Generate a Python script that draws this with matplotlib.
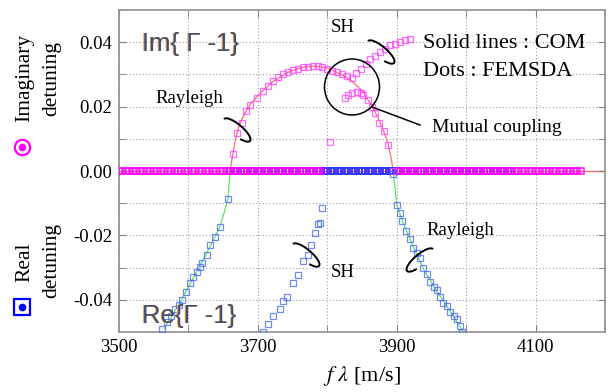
import numpy as np
import matplotlib
matplotlib.use("Agg")
import matplotlib.pyplot as plt
from matplotlib.patches import Arc, Ellipse
from matplotlib.lines import Line2D
from matplotlib.transforms import IdentityTransform, offset_copy
from matplotlib.ticker import FuncFormatter

plt.rcParams["font.family"] = ["Liberation Serif", "DejaVu Serif"]
plt.rcParams["mathtext.fontset"] = "stix"

# FEMSDA dots, imaginary part (Rayleigh branch)
im_ray_x = [3664, 3670, 3677, 3683, 3689, 3699, 3707, 3714, 3722, 3729, 3736, 3744, 3751, 3758,
            3765, 3772, 3779, 3786, 3793, 3800, 3807, 3814, 3821, 3828, 3835]
im_ray_y = [0.0054, 0.0117, 0.015, 0.0186, 0.0205, 0.0227, 0.025, 0.0265, 0.0278, 0.0292, 0.030,
            0.0308, 0.0315, 0.0318, 0.0322, 0.0324, 0.0325, 0.0325, 0.0323, 0.0318, 0.0312, 0.0306,
            0.030, 0.0294, 0.029]
# imaginary part, SH branch
im_sh_x = [3842, 3849, 3856, 3862, 3869, 3876, 3883, 3890, 3897, 3905, 3912, 3919]
im_sh_y = [0.0305, 0.0318, 0.0333, 0.0347, 0.0358, 0.037, 0.038, 0.039, 0.0395, 0.040, 0.0407, 0.041]
# imaginary part, coupled branch
im_cp_x = [3826, 3830, 3836, 3843, 3848, 3852, 3859, 3864, 3869, 3875, 3882, 3888, 3895, 3804]
im_cp_y = [0.0227, 0.0235, 0.0243, 0.0246, 0.0243, 0.0237, 0.022, 0.020, 0.018, 0.015, 0.0125,
           0.0082, 0.0, 0.009]

# real part dots
re_left_x = [3562, 3569, 3575, 3581, 3586, 3591, 3597, 3602, 3607, 3612, 3617, 3620, 3627, 3631,
             3638, 3645, 3657]
re_left_y = [-0.049, -0.047, -0.045, -0.043, -0.0415, -0.040, -0.0375, -0.0348, -0.033, -0.0314,
             -0.0298, -0.0287, -0.026, -0.023, -0.0206, -0.0175, -0.0086]
re_sh_x = [3707, 3714, 3722, 3732, 3736, 3742, 3751, 3758, 3765, 3772, 3777, 3782, 3787, 3790, 3793]
re_sh_y = [-0.050, -0.0475, -0.045, -0.043, -0.0405, -0.039, -0.0348, -0.0323, -0.028, -0.026,
           -0.023, -0.0194, -0.0165, -0.0162, -0.0115]
re_right_x = [3895, 3900, 3905, 3908, 3914, 3919, 3924, 3929, 3934, 3938, 3943, 3948, 3953, 3958,
              3962, 3967, 3972, 3977, 3982, 3987, 3991, 3994]
re_right_y = [-0.001, -0.0105, -0.013, -0.0154, -0.0185, -0.021, -0.024, -0.0255, -0.027, -0.030,
              -0.032, -0.0345, -0.036, -0.037, -0.039, -0.041, -0.042, -0.0437, -0.045, -0.046,
              -0.048, -0.050]

# COM solid lines
com_im_x = [3660, 3663, 3667, 3672, 3680, 3690, 3705, 3720, 3740, 3760, 3780, 3800, 3820, 3835,
            3850, 3862, 3872, 3880, 3887, 3892, 3895]
com_im_y = [0.0, 0.004, 0.009, 0.0135, 0.0175, 0.021, 0.0245, 0.0275, 0.0303, 0.032, 0.0326,
            0.032, 0.030, 0.028, 0.025, 0.021, 0.017, 0.013, 0.009, 0.004, 0.0]
com_re_left_x = [3660, 3657, 3650, 3645, 3630, 3610, 3590, 3565]
com_re_left_y = [0.0, -0.0086, -0.014, -0.0175, -0.024, -0.032, -0.040, -0.049]
com_re_right_x = [3895, 3900, 3910, 3925, 3940, 3960, 3980, 3996]
com_re_right_y = [0.0, -0.0105, -0.0165, -0.024, -0.031, -0.038, -0.0445, -0.050]

# frequency sweep samples where detuning is zero
zero_im_x = np.arange(3500, 4166, 5)
zero_re_x = np.arange(3660, 4066, 5)
zero_re_strong_x = np.arange(3800, 3896, 5)

magenta = "#ff3cff"
blue = "#4466ee"

fig = plt.figure(figsize=(6.08, 3.92), dpi=100)
ax = fig.add_axes([119 / 608, 60 / 392, 486 / 608, 322 / 392])

# COM lines
ax.plot([3500, 4200], [0, 0], color="#ff6060", lw=1, zorder=1)
ax.plot(com_im_x, com_im_y, color="#ff7070", lw=0.9, zorder=1)
ax.plot(com_re_left_x, com_re_left_y, color="#66e066", lw=0.9, zorder=1)
ax.plot(com_re_right_x, com_re_right_y, color="#66e066", lw=0.9, zorder=1)

mk = dict(ls="none", marker="s", ms=4.2, mfc="none", mew=0.9, alpha=0.75, zorder=3)
mk0 = dict(ls="none", marker="s", ms=4.4, mfc="none", mew=1.1, alpha=0.9, zorder=3)
ax.plot(zero_re_x, np.zeros(len(zero_re_x)), mec="#3030ff", **mk0)
ax.plot(zero_im_x, np.zeros(len(zero_im_x)), mec="#ff00ff", **mk0)
ax.plot(zero_re_strong_x, np.zeros(len(zero_re_strong_x)), mec="#2040ff", **mk0)
ax.plot(im_ray_x, im_ray_y, mec=magenta, **mk)
ax.plot(im_sh_x, im_sh_y, mec=magenta, **mk)
ax.plot(im_cp_x, im_cp_y, mec=magenta, **mk)
ax.plot(re_left_x, re_left_y, mec=blue, **mk)
ax.plot(re_sh_x, re_sh_y, mec=blue, **mk)
ax.plot(re_right_x, re_right_y, mec=blue, **mk)

ax.set_xlim(3500, 4200)
ax.set_ylim(-0.05, 0.05)
ax.set_xticks([3500, 3700, 3900, 4100])
ax.set_xticks([3600, 3800, 4000, 4200], minor=True)
ax.set_yticks([-0.04, -0.02, 0.0, 0.02, 0.04])
ax.set_yticks([-0.03, -0.01, 0.01, 0.03], minor=True)
ax.yaxis.set_major_formatter(FuncFormatter(lambda v, p: "%.2f" % v if abs(v) > 1e-9 else "0.00"))
ax.grid(True, which="both", ls=(0, (1, 2)), color="#a0a0a0", lw=0.8)
ax.tick_params(which="both", direction="in", length=5, top=True, right=True,
               color="#808080", labelsize=13.5, pad=5)
for s in ax.spines.values():
    s.set_color("#909090")
    s.set_linewidth(1.2)
ax.set_xlabel(r"$f\ \lambda$ [m/s]", fontsize=16, labelpad=6)

# Im / Re labels with colour fringe
for txt, y in [("Im{ Γ -1}", 0.0395), ("Re{Γ -1}", -0.045)]:
    sh = offset_copy(ax.transData, fig=fig, x=-1.2, y=0, units="dots")
    ax.text(3533, y, txt, fontsize=18.5, family=["Liberation Sans", "DejaVu Sans"],
            color="#e8a050", va="center", transform=sh, zorder=4)
    ax.text(3533, y, txt, fontsize=18.5, family=["Liberation Sans", "DejaVu Sans"],
            color="#40506e", va="center", zorder=5)

ax.text(3552, 0.0225, "Rayleigh", fontsize=13.5, va="center")
ax.text(3805, 0.0445, "SH", fontsize=13.5, va="center")
ax.text(3805, -0.0315, "SH", fontsize=13.5, va="center")
ax.text(3943, -0.0185, "Rayleigh", fontsize=13.5, va="center")
ax.text(3938, 0.0397, "Solid lines : COM", fontsize=16, va="center")
ax.text(3938, 0.0309, "Dots : FEMSDA", fontsize=16, va="center")
ax.text(3951, 0.0136, "Mutual coupling", fontsize=14, va="center")

# circle and pointer in pixel coords (y up)
H = 392
fig.add_artist(Ellipse((352, H - 87), 55, 56, transform=IdentityTransform(), fill=False,
                       color="black", lw=1.1))
fig.add_artist(Line2D([372, 420], [H - 107, H - 125], transform=IdentityTransform(),
                      color="black", lw=1.1))
for cx, cy, ang, t1, t2 in [(381, 52, -40, -30, 180), (237, 130, -40, -30, 180),
                            (306, 255, -40, -30, 180), (420, 260, 40, 0, 210)]:
    fig.add_artist(Arc((cx, H - cy), 34, 11, angle=ang, theta1=t1, theta2=t2,
                       transform=IdentityTransform(), color="black", lw=1.4))

# left side labels
fig.text(25 / 608, 1 - 78 / 392, "Imaginary", rotation=90, fontsize=15.5, ha="center", va="center")
fig.text(52 / 608, 1 - 78 / 392, "detuning", rotation=90, fontsize=15.5, ha="center", va="center")
fig.text(25 / 608, 1 - 262 / 392, "Real", rotation=90, fontsize=15.5, ha="center", va="center")
fig.text(52 / 608, 1 - 260 / 392, "detuning", rotation=90, fontsize=15.5, ha="center", va="center")
fig.add_artist(Line2D([22], [H - 147], transform=IdentityTransform(), marker="o", ms=11,
                      mfc="none", mec="#ff00ff", mew=1.6))
fig.add_artist(Line2D([22], [H - 147], transform=IdentityTransform(), marker="o", ms=4.5,
                      mfc="#ff00ff", mec="#ff00ff"))
fig.add_artist(Line2D([22], [H - 307], transform=IdentityTransform(), marker="s", ms=11,
                      mfc="none", mec="#0000ff", mew=1.6))
fig.add_artist(Line2D([22], [H - 307], transform=IdentityTransform(), marker="o", ms=4.5,
                      mfc="#0000ff", mec="#0000ff"))

fig.savefig("out.png", dpi=100)
